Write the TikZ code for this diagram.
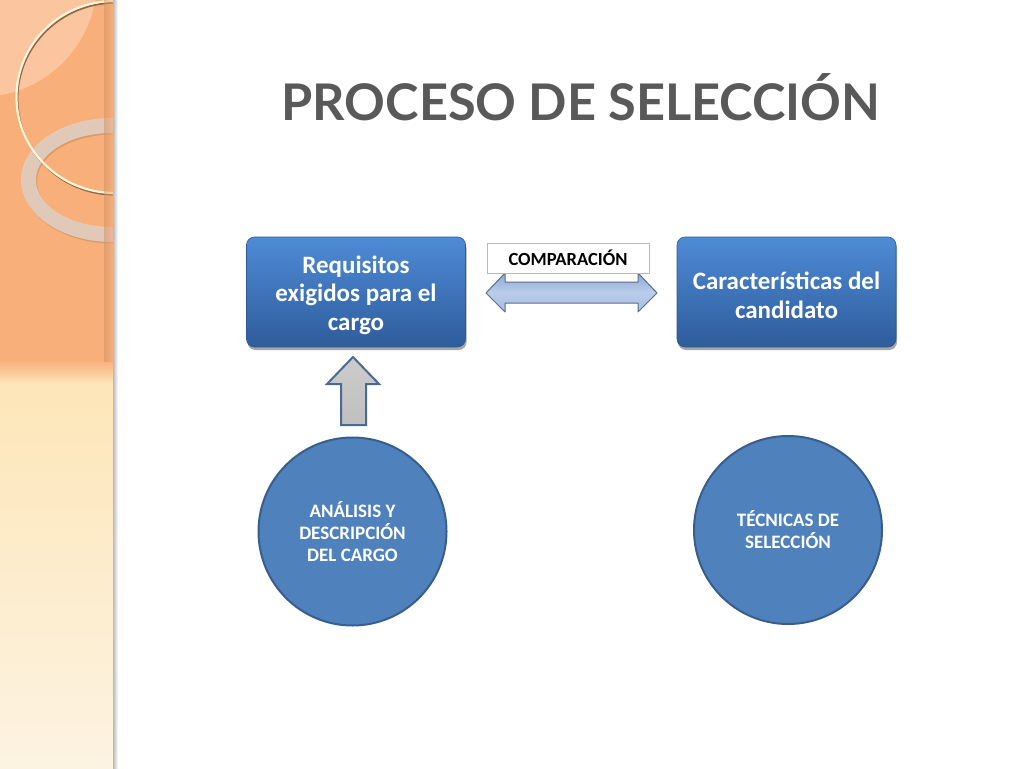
\documentclass[tikz,border=0pt]{standalone}
\usepackage{fontspec}
\setmainfont{Carlito}
\newfontfamily\titlefont{Lato}
\usetikzlibrary{shadows}
\definecolor{stripor}{HTML}{F9AF7A}
\definecolor{stripye}{HTML}{FDE6B8}
\definecolor{stripbot}{HTML}{FDF3E2}
\definecolor{ringc}{HTML}{E2CEC0}
\definecolor{creamc}{HTML}{FFF6DA}
\definecolor{brownc}{HTML}{7A5838}
\definecolor{boxtop}{HTML}{4F8BD6}
\definecolor{boxmid}{HTML}{3D75BF}
\definecolor{boxbot}{HTML}{2E5C9C}
\definecolor{boxedge}{HTML}{2F5A96}
\definecolor{circfill}{HTML}{4F81BD}
\definecolor{circedge}{HTML}{385E8E}
\definecolor{titlec}{HTML}{595959}
\definecolor{arredge}{HTML}{4A6A94}
\definecolor{dblA}{HTML}{8CA9D8}
\definecolor{dblM}{HTML}{BACDEA}
\definecolor{dblB}{HTML}{A5BEE2}
\definecolor{dbledge}{HTML}{5A6E8A}
\tikzset{
  bluebox/.style={rectangle, rounded corners=8pt, minimum width=219pt, minimum height=110pt,
    top color=boxtop, middle color=boxmid, bottom color=boxbot, draw=boxedge, line width=0.6pt, align=center,
    text=white, font=\fontsize{25}{28.5}\selectfont\bfseries,
    drop shadow={shadow xshift=1pt, shadow yshift=-3pt, opacity=0.35, fill=black}},
  bluecirc/.style={circle, minimum size=188pt, fill=circfill, draw=circedge, line width=2pt,
    align=center, text=white, font=\fontsize{19}{22}\selectfont\bfseries},
  compbox/.style={rectangle, minimum width=162pt, minimum height=30pt, fill=white,
    draw=gray!55, line width=0.6pt, font=\fontsize{18.5}{20}\selectfont\bfseries, text=black},
  titletext/.style={font=\titlefont\fontsize{50.5}{54}\selectfont\bfseries}
}
\begin{document}
\begin{tikzpicture}[x=1pt,y=-1pt]
\useasboundingbox (0,0) rectangle (1024,768);
\fill[white] (0,0) rectangle (1024,768);
% left strip
\fill[stripor] (0,0) rectangle (113,361);
\shade[top color=stripor, bottom color=stripye] (0,360) rectangle (113,384);
\shade[top color=stripye, bottom color=stripbot] (0,383.5) rectangle (113,768);
\begin{scope}
  \clip (0,0) rectangle (113,361);
  \fill[white, opacity=0.28] (-20,-20) circle (117);
  \fill[brownc, opacity=0.25, even odd rule] (113,181.5) ellipse [x radius=91, y radius=62]
        (113,181.5) ellipse [x radius=76, y radius=47];
  \fill[ringc, opacity=0.92, even odd rule] (112,180) ellipse [x radius=91, y radius=62]
        (112,180) ellipse [x radius=76, y radius=47];
  \draw[brownc, line width=1.8pt, opacity=0.85] (115.5,98.8) ellipse [x radius=98, y radius=96];
  \draw[creamc, line width=2.2pt] (114.5,97) ellipse [x radius=98, y radius=96];
\end{scope}
\shade[left color=brownc!35!stripor, right color=stripor, opacity=0.5] (104,0) rectangle (113,361);
\shade[left color=gray!55, right color=white] (113,0) rectangle (118,768);
% title
\node[titletext, text=titlec] (title) at (581,97) {PROCESO DE SELECCIÓN};
% boxes
\node[bluebox] (req) at (356,292) {\rule{0pt}{24pt}Requisitos\\exigidos para el\\cargo};
\node[bluebox] (cand) at (786.5,292) {\rule{0pt}{24pt}Características del\\candidato};
% double arrow
\coordinate (dl) at (486,293);
\coordinate (dr) at (657,293);
\shade[top color=dblA, bottom color=dblB, middle color=dblM, draw=dbledge, line width=1pt, line join=round]
  (dl) -- (505,273) -- (505,282) -- (638,282) -- (638,273) -- (dr) -- (638,312) -- (638,303)
  -- (505,303) -- (505,312) -- cycle;
\node[compbox] (comp) at (568,258) {COMPARACIÓN};
% up arrow
\shade[top color=gray!40, bottom color=gray!50, draw=arredge, line width=2pt, line join=miter]
  (353,357) -- (379,384) -- (366,384) -- (366,425) -- (341,425) -- (341,384) -- (327,384) -- cycle;
\coordinate (uptip) at (353,357);
% circles
\node[bluecirc] (ana) at (352.5,531.5) {ANÁLISIS Y\\DESCRIPCIÓN\\DEL CARGO};
\node[bluecirc] (tec) at (788,530) {TÉCNICAS DE\\SELECCIÓN};
\end{tikzpicture}
\end{document}
